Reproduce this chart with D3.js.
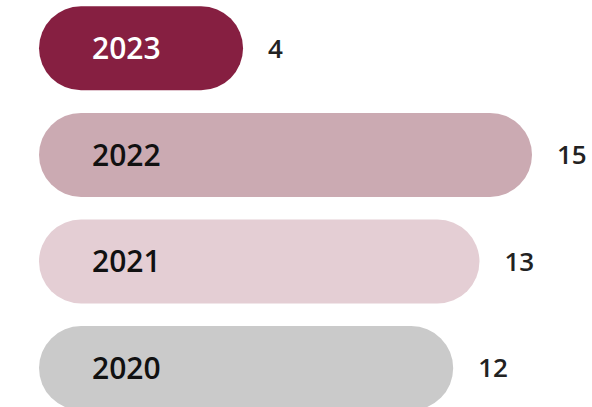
<!DOCTYPE html>
<html>
<head>
<meta charset="utf-8">
<script src="https://cdn.jsdelivr.net/npm/d3@7"></script>
<style>
  html, body { margin: 0; padding: 0; background: #fff; overflow: hidden; }
  svg { display: block; font-family: "Open Sans", Lato, sans-serif; }
</style>
</head>
<body>
<div id="chart"></div>
<script>
// Data
const years = ["2023", "2022", "2021", "2020"];
const counts = [4, 15, 13, 12];
const barColors = ["#861f41", "#cbaab2", "#e4ced4", "#cacaca"];
const labelColors = ["#ffffff", "#111111", "#111111", "#111111"];

const width = 592, height = 407;

const svg = d3.select("#chart")
    .append("svg")
    .attr("width", width)
    .attr("height", height);

const left = 39;

// Bars have a minimum pill length, then grow with the value
const x = d3.scaleLinear()
    .domain([0, 15])
    .range([99, 493]);

const y = d3.scaleBand()
    .domain(years)
    .range([6.3, 410.1])
    .paddingInner(0.212);

const rows = years.map((yr, i) => ({ year: yr, value: counts[i], color: barColors[i], text: labelColors[i] }));

const row = svg.selectAll("g.row")
    .data(rows)
    .enter()
    .append("g")
    .attr("class", "row")
    .attr("transform", d => `translate(${left}, ${y(d.year)})`);

// Pill shaped bars
row.append("rect")
    .attr("width", d => x(d.value))
    .attr("height", y.bandwidth())
    .attr("rx", y.bandwidth() / 2)
    .attr("ry", y.bandwidth() / 2)
    .style("fill", d => d.color);

// Year label inside the bar
row.append("text")
    .attr("x", 53)
    .attr("y", y.bandwidth() / 2)
    .attr("dy", "0.36em")
    .style("font-size", "30px")
    .style("font-weight", 550)
    .style("fill", d => d.text)
    .text(d => d.year);

// Value label after the bar
row.append("text")
    .attr("x", d => x(d.value) + 25)
    .attr("y", y.bandwidth() / 2)
    .attr("dy", "0.36em")
    .style("font-size", "26px")
    .style("font-weight", 550)
    .style("fill", "#222")
    .text(d => d.value);
</script>
</body>
</html>
